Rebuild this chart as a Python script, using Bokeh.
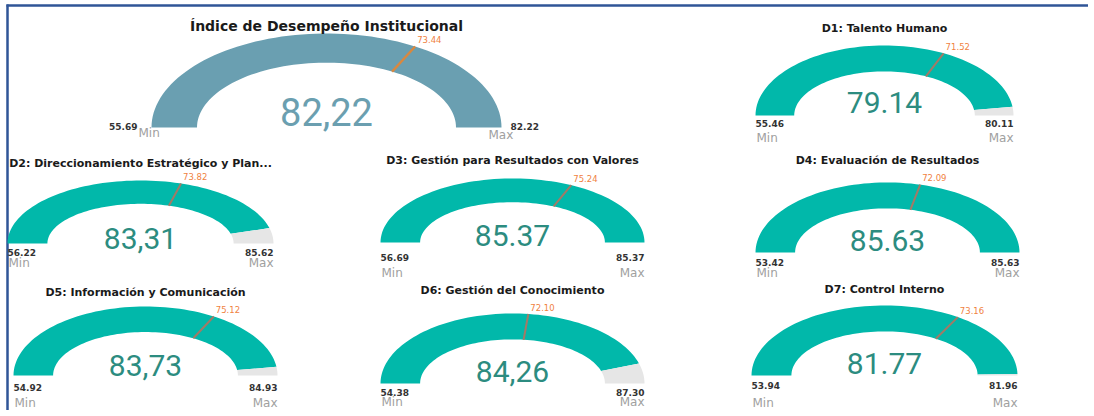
import numpy as np
from bokeh.plotting import figure
from bokeh.models import Range1d
from bokeh.core.properties import value
from bokeh.embed import file_html
from bokeh.resources import INLINE

# ---------------- data ----------------
titles = ["Índice de Desempeño Institucional", "D1: Talento Humano",
          "D2: Direccionamiento Estratégico y Plan...",
          "D3: Gestión para Resultados con Valores", "D4: Evaluación de Resultados",
          "D5: Información y Comunicación", "D6: Gestión del Conocimiento",
          "D7: Control Interno"]
values = [82.22, 79.14, 83.31, 85.37, 85.63, 83.73, 84.26, 81.77]
value_labels = ["82,22", "79.14", "83,31", "85.37", "85.63", "83,73", "84,26", "81.77"]
mins = [55.69, 55.46, 56.22, 56.69, 53.42, 54.92, 54.38, 53.94]
maxs = [82.22, 80.11, 85.62, 85.37, 85.63, 84.93, 87.30, 81.96]
targets = [73.44, 71.52, 73.82, 75.24, 72.09, 75.12, 72.10, 73.16]

# ---------------- layout (pixel positions in page coords) ----------------
cxs = [326, 884, 140, 512, 887, 145, 512, 884]
cys = [127, 115, 243, 242, 252, 375, 383, 375]
rxs = [175, 129, 133, 132, 132, 132, 132, 133]
rys = [94, 70, 63, 64, 70, 69, 70, 70]
kxs = [0.74] + [0.70] * 7
kys = [0.69] + [0.63] * 7
title_ys = [25, 28, 163, 160, 160, 292, 290, 289]
value_ys = [111, 102, 238, 235, 240, 365, 371, 363]
num_ys = [126, 123, 252, 257, 262, 387, 392, 385]
word_ys = [132, 137, 262, 272, 272, 402, 401, 402]

fills = ["#6A9FB1"] + ["#01B8AA"] * 7
val_colors = ["#6B9FB0"] + ["#2C8C80"] * 7
tgt_line_colors = ["#D9883F"] + ["#A27A66"] * 7

W, H = 1088, 410
p = figure(width=W, height=H, output_backend="svg", toolbar_location=None,
           x_range=Range1d(0, W), y_range=Range1d(H, 0),
           x_axis_type=None, y_axis_type=None, min_border=0)
p.grid.visible = False
p.outline_line_color = None
p.background_fill_color = "white"

# frame lines
p.segment(x0=[6], y0=[5], x1=[W], y1=[5], line_color="#2F5597", line_width=2.5)
p.segment(x0=[7], y0=[4], x1=[7], y1=[H], line_color="#2F5597", line_width=2.5)


def arc(cx, cy, rx, ry, kx, ky, f0, f1, n=80):
    th = np.linspace(np.pi * (1 - f0), np.pi * (1 - f1), n)
    xo = cx + rx * np.cos(th)
    yo = cy - ry * np.sin(th)
    xi = cx + rx * kx * np.cos(th[::-1])
    yi = cy - ry * ky * np.sin(th[::-1])
    return list(np.concatenate([xo, xi])), list(np.concatenate([yo, yi]))


xs, ys, cols = [], [], []
for i in range(8):
    f = (values[i] - mins[i]) / (maxs[i] - mins[i])
    f = min(max(f, 0), 1)
    g = (cxs[i], cys[i], rxs[i], rys[i], kxs[i], kys[i])
    ax, ay = arc(*g, 0, f)
    xs.append(ax); ys.append(ay); cols.append(fills[i])
    if f < 1:
        bx, by = arc(*g, f, 1)
        xs.append(bx); ys.append(by); cols.append("#E6E6E6")
p.patches(xs=xs, ys=ys, fill_color=cols, line_color=None)

bold = value("DejaVu Sans")
for i in range(8):
    cx, cy, rx, ry = cxs[i], cys[i], rxs[i], rys[i]
    # target line
    ft = (targets[i] - mins[i]) / (maxs[i] - mins[i])
    th = np.pi * (1 - ft)
    x0 = cx + rx * kxs[i] * np.cos(th); y0 = cy - ry * kys[i] * np.sin(th)
    x1 = cx + rx * np.cos(th); y1 = cy - ry * np.sin(th)
    p.segment(x0=[x0], y0=[y0], x1=[x1], y1=[y1],
              line_color=tgt_line_colors[i], line_width=2.4 if i == 0 else 2)
    p.text(x=[x1 + 2], y=[y1 - 7], text=[f"{targets[i]:.2f}"],
           text_font=bold, text_font_size="8.5px", text_color="#F0823F",
           text_align="left", text_baseline="middle")
    # title
    p.text(x=[cx], y=[title_ys[i]], text=[titles[i]], text_font=bold,
           text_font_style="bold", text_font_size="14px" if i == 0 else "11px",
           text_color="#1A1A1A", text_align="center", text_baseline="middle")
    # value
    p.text(x=[cx], y=[value_ys[i]], text=[value_labels[i]], text_font=value("Roboto"),
           text_font_size="38px" if i == 0 else "30px", text_color=val_colors[i],
           text_align="center", text_baseline="middle")
    # min / max
    num_kw = dict(text_font=bold, text_font_style="bold", text_font_size="9px",
                  text_color="#333333", text_baseline="middle")
    word_kw = dict(text_font=bold, text_font_size="12px", text_color="#A0A0A0",
                   text_baseline="middle")
    if i == 0:
        p.text(x=[137], y=[num_ys[i]], text=[f"{mins[i]:.2f}"], text_align="right", **num_kw)
        p.text(x=[138], y=[word_ys[i]], text=["Min"], text_align="left", **word_kw)
        p.text(x=[510], y=[num_ys[i]], text=[f"{maxs[i]:.2f}"], text_align="left", **num_kw)
        p.text(x=[488], y=[word_ys[i] + 2], text=["Max"], text_align="left", **word_kw)
    else:
        p.text(x=[cx - rx], y=[num_ys[i]], text=[f"{mins[i]:.2f}"], text_align="left", **num_kw)
        p.text(x=[cx - rx + 1], y=[word_ys[i]], text=["Min"], text_align="left", **word_kw)
        p.text(x=[cx + rx], y=[num_ys[i]], text=[f"{maxs[i]:.2f}"], text_align="right", **num_kw)
        p.text(x=[cx + rx], y=[word_ys[i]], text=["Max"], text_align="right", **word_kw)

open("out.html", "w").write(file_html(p, INLINE))
